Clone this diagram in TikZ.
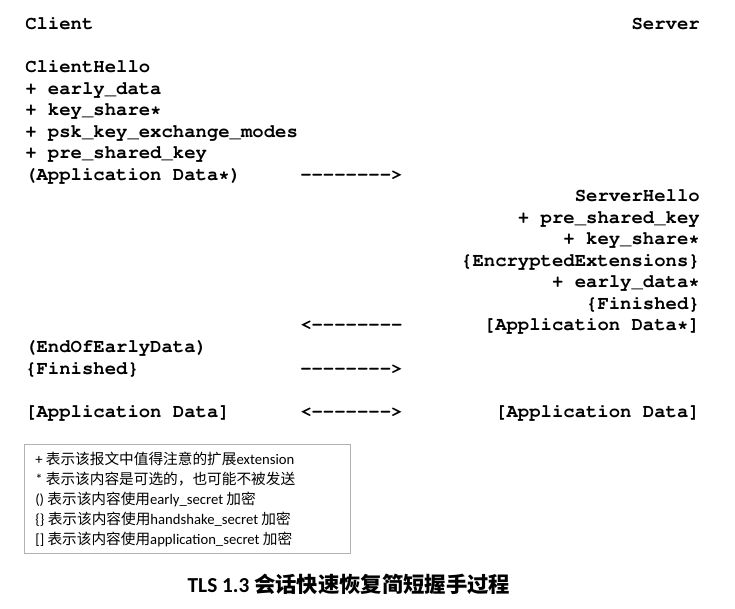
\documentclass[tikz,border=0pt]{standalone}
\usepackage[T1]{fontenc}
\usepackage{fontspec}
\setmainfont{Carlito}
\newfontfamily\cjk{Noto Sans CJK SC}
\usetikzlibrary{positioning}
\newcommand{\monotext}{\fontencoding{T1}\fontfamily{pcr}\fontseries{b}\fontsize{14.2}{16}\selectfont}
\newcommand{\zh}[1]{{\cjk #1}}

\begin{document}
\begin{tikzpicture}[x=0.75pt, y=-0.75pt,
            msg/.style={inner sep=0pt, font=\monotext},
            cli/.style={msg, anchor=base west},
            srv/.style={msg, anchor=base east},
            arr/.style={msg, anchor=base west},
            legendbox/.style={draw=black!30, line width=0.6pt, minimum width=244pt, minimum height=82pt, inner sep=0pt},
            note/.style={inner sep=0pt, anchor=base west, font=\fontsize{11}{13}\selectfont},
            title/.style={inner sep=0pt, anchor=base, font=\bfseries\fontsize{16}{19}\selectfont}]

    \useasboundingbox (0,0) rectangle (735,609);

    % Endpoints
    \node [cli] (client) at (25,30) {Client};
    \node [srv] (server) at (700,30) {Server};

    % Client first flight
    \foreach \txt [count=\i] in {ClientHello, + early\_data, + key\_share*, + psk\_key\_exchange\_modes, + pre\_shared\_key, (Application Data*)}
        \node [cli] (ch\i) at (25,51.5+21.5*\i) {\txt};
    \node [arr] (arr1) at (300,180.5) {-{}-{}-{}-{}-{}-{}-{}->};

    % Server flight
    \foreach \txt [count=\i] in {ServerHello, + pre\_shared\_key, + key\_share*, \{EncryptedExtensions\}, + early\_data*, \{Finished\}, [Application Data*]}
        \node [srv] (sh\i) at (700,180.5+21.5*\i) {\txt};
    \node [arr] (arr2) at (300,331) {<-{}-{}-{}-{}-{}-{}-{}-};

    % Client second flight
    \node [cli] (eoed) at (25,352.5) {(EndOfEarlyData)};
    \node [cli] (cfin) at (25,374) {\{Finished\}};
    \node [arr] (arr3) at (300,374) {-{}-{}-{}-{}-{}-{}-{}->};

    % Application data
    \node [cli] (capp) at (25,417) {[Application Data]};
    \node [arr] (arr4) at (300,417) {<-{}-{}-{}-{}-{}-{}->};
    \node [srv] (sapp) at (700,417) {[Application Data]};

    % Legend
    \node [legendbox] (legend) at (187.5,499) {};
    \node [note] (n1) at (35,464) {+ \zh{表示该报文中值得注意的扩展}extension};
    \node [note] (n2) at (35,484) {* \zh{表示该内容是可选的，也可能不被发送}};
    \node [note] (n3) at (35,504) {() \zh{表示该内容使用}early\_secret \zh{加密}};
    \node [note] (n4) at (35,524) {\{\} \zh{表示该内容使用}handshake\_secret \zh{加密}};
    \node [note] (n5) at (35,544) {[] \zh{表示该内容使用}application\_secret \zh{加密}};

    % Caption
    \node [title] (caption) at (349,592) {TLS 1.3 \zh{会话快速恢复简短握手过程}};

\end{tikzpicture}
\end{document}
